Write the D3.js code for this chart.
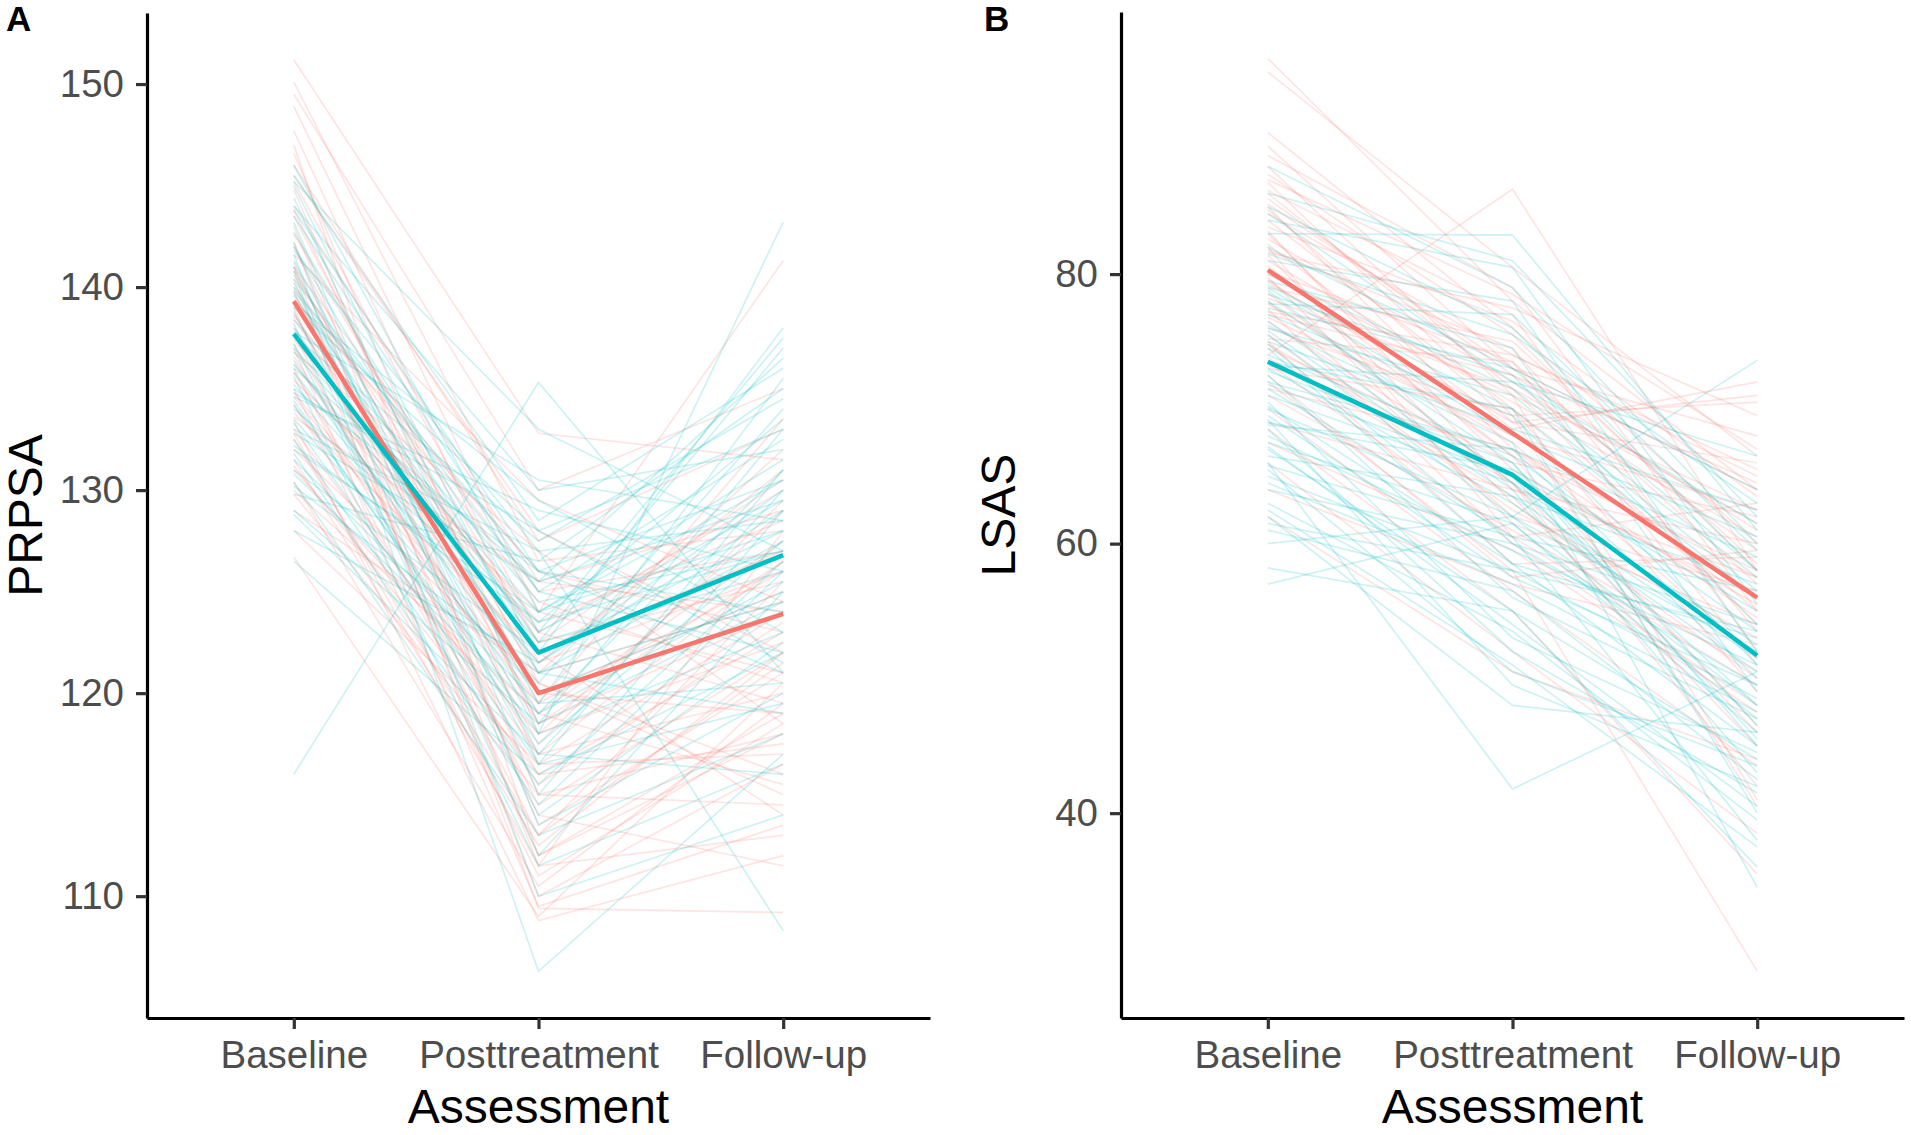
<!DOCTYPE html>
<html lang="en">
<head>
<meta charset="UTF-8">
<title>PRPSA and LSAS by assessment</title>
<script src="https://d3js.org/d3.v7.min.js"></script>
<style>
  body { margin: 0; background: #ffffff; }
  svg { display: block; font-family: "Liberation Sans", Arial, sans-serif; }
</style>
</head>
<body>
<div id="chart"></div>
<script>
// Assessment points on the x axis
var assessments = ["Baseline", "Posttreatment", "Follow-up"];

// Group colours (ggplot default hues)
var groupColors = ["#F8766D", "#00BFC4"];

// Panel A: PRPSA, one row per participant [baseline, post, follow-up]
var prpsaGroup1 = [
  [151.2,132.8,131.5],[150.1,126.5,128.0],[148.9,124.0,141.3],[147.7,121.5,126.0],
  [146.6,118.0,122.5],[146.0,127.5,133.0],[145.2,123.0,119.5],[144.8,116.5,124.0],
  [144.0,125.5,129.0],[143.5,120.5,115.0],[143.0,113.5,121.0],[142.6,122.5,130.5],
  [142.0,118.5,126.5],[141.6,129.5,124.5],[141.2,115.0,118.0],[140.8,121.0,132.0],
  [140.4,110.0,116.5],[140.0,124.5,120.5],[139.7,119.0,127.5],[139.4,126.0,123.0],
  [139.0,112.0,119.0],[138.7,117.5,129.5],[138.4,122.0,114.0],[138.0,120.0,125.0],
  [137.7,114.5,122.0],[137.4,123.5,128.5],[137.0,109.5,113.5],[136.6,118.5,124.0],
  [136.2,121.5,131.0],[135.8,116.0,117.5],[135.4,124.0,121.0],[135.0,111.0,118.5],
  [134.6,119.5,126.0],[134.2,115.5,123.5],[133.8,122.0,127.0],[133.4,108.8,112.0],
  [133.0,117.0,120.0],[132.5,113.0,125.5],[132.0,120.5,116.0],[131.5,112.5,122.0],
  [131.0,118.0,129.0],[130.4,110.5,119.5],[129.8,115.0,114.5],[129.0,121.0,124.5],
  [128.0,116.5,117.0],[126.7,109.0,120.5],[141.0,109.4,109.2],[149.5,130.0,135.0],
  [147.0,112.0,118.0],[145.5,128.0,122.0],[143.8,119.5,133.5],[142.2,111.5,113.0],
  [141.0,125.0,127.0],[139.8,114.0,111.5],[138.6,123.0,130.0],[137.2,117.0,126.5],
  [136.0,113.0,121.5],[134.8,120.0,119.0],[133.6,125.5,124.0],[132.8,111.5,128.0],
  [131.2,116.0,123.0],[130.0,119.0,115.5],[140.6,122.5,125.5],[136.8,127.0,118.5]
];
var prpsaGroup2 = [
  [116.0,135.3,121.0],[146.0,124.0,130.5],[145.5,128.5,136.0],[145.0,121.0,127.5],
  [144.4,118.5,133.0],[143.8,126.0,124.0],[143.2,115.0,129.0],[142.7,123.0,137.5],
  [142.2,113.5,120.0],[141.8,127.0,128.5],[141.3,120.0,125.0],[140.8,106.3,117.0],
  [140.4,125.0,132.5],[140.0,118.0,143.2],[139.6,122.5,126.0],[139.2,129.5,123.0],
  [138.8,116.5,131.0],[138.4,124.5,127.0],[138.0,121.0,119.0],[137.6,127.5,134.5],
  [137.2,114.0,122.5],[136.8,123.0,129.5],[136.4,119.0,125.5],[136.0,125.5,136.5],
  [135.6,111.5,116.5],[135.2,121.5,130.0],[134.8,128.0,121.5],[134.4,117.5,127.5],
  [134.0,123.5,133.5],[133.5,120.0,124.0],[133.0,127.0,108.3],[132.5,115.5,126.5],
  [132.0,124.0,131.5],[131.5,119.5,120.5],[131.0,122.0,128.0],[130.4,113.0,118.0],
  [129.8,126.5,135.0],[129.0,118.5,124.5],[128.0,121.5,129.0],[126.5,116.0,122.0],
  [144.0,130.0,132.0],[142.0,122.0,138.0],[141.0,117.0,116.0],[139.8,126.0,130.5],
  [138.2,112.0,125.0],[137.0,124.0,128.0],[135.8,120.5,134.0],[134.6,129.0,126.0],
  [133.3,116.5,119.5],[132.2,123.5,127.0],[130.8,119.0,131.0],[145.2,133.0,127.0],
  [143.5,125.0,122.0],[141.6,110.0,114.0],[139.0,128.0,133.0],[136.2,122.5,137.0],
  [134.2,118.0,123.0],[132.8,125.5,129.5],[131.8,114.5,126.0],[130.2,121.0,124.5],
  [137.8,130.5,128.5],[140.2,119.5,135.5],[135.0,126.0,121.0],[128.8,117.0,130.0]
];
var prpsaMean1 = [139.3, 120.0, 123.9];
var prpsaMean2 = [137.7, 122.0, 126.8];
var prpsaTicks = [110, 120, 130, 140, 150];

// Panel B: LSAS, one row per participant [baseline, post, follow-up]
var lsasGroup1 = [
  [96.0,78.0,64.0],[95.0,80.5,66.5],[90.5,76.0,60.0],[89.5,73.0,68.0],
  [88.8,79.0,55.0],[88.0,71.0,62.5],[87.4,75.5,58.0],[86.8,69.5,70.5],
  [86.2,77.0,52.0],[85.6,72.5,61.0],[85.0,67.0,57.5],[84.5,74.0,65.0],
  [84.0,70.0,49.0],[83.5,76.5,63.5],[83.0,65.5,55.5],[82.6,72.0,59.5],
  [82.2,68.5,72.0],[81.8,74.5,53.5],[81.4,63.0,50.0],[81.0,70.5,60.5],
  [80.6,66.5,46.5],[80.2,73.5,57.0],[79.8,61.5,54.0],[79.4,69.0,66.0],
  [79.0,75.0,58.5],[78.6,64.5,42.0],[78.2,71.5,61.5],[77.8,67.5,51.5],
  [77.4,60.0,48.0],[77.0,72.5,64.5],[76.5,65.0,56.0],[76.0,69.5,40.5],
  [75.5,62.5,53.0],[75.0,58.5,59.0],[74.0,86.3,58.0],[74.5,66.0,62.0],
  [73.8,63.5,45.0],[73.0,70.0,55.0],[72.0,58.0,28.3],[71.0,61.0,50.5],
  [70.0,56.5,43.5],[69.0,64.0,57.5],[67.5,59.5,47.5],[66.0,52.0,38.5],
  [64.0,57.0,52.5],[62.0,50.5,44.0],[87.0,78.5,67.0],[85.2,73.0,64.0],
  [83.2,64.0,60.0],[81.6,77.5,69.5],[80.0,71.0,41.0],[78.0,62.0,56.5],
  [76.8,68.0,62.5],[75.2,73.5,51.0],[73.4,60.5,63.0],[71.5,67.0,54.5],
  [68.5,55.0,35.5],[84.8,69.0,71.0],[82.0,60.5,49.5],[79.6,66.5,58.0],
  [77.2,74.0,65.5],[74.8,64.5,46.0],[72.5,57.5,59.5],[86.0,71.5,54.0]
];
var lsasGroup2 = [
  [88.0,79.0,60.0],[86.0,81.0,62.0],[85.0,76.0,58.0],[84.0,80.5,55.5],
  [83.0,82.9,61.0],[82.0,73.0,64.0],[81.0,78.0,52.0],[80.0,71.5,57.5],
  [79.5,74.5,49.0],[79.0,68.0,60.5],[78.5,72.5,54.0],[78.0,66.0,46.5],
  [77.5,73.0,58.0],[77.0,69.5,51.0],[76.5,64.0,43.0],[76.0,71.0,56.5],
  [75.5,62.0,48.0],[75.0,68.5,62.5],[74.5,58.5,45.0],[74.0,66.5,53.5],
  [73.5,70.0,40.0],[73.0,63.0,50.5],[72.5,56.0,47.0],[72.0,67.0,59.0],
  [71.5,60.5,38.0],[71.0,64.5,52.5],[70.5,53.0,44.5],[70.0,62.0,73.6],
  [69.5,57.5,49.5],[69.0,65.5,55.0],[68.5,52.0,41.5],[68.0,59.5,51.0],
  [67.5,61.5,46.0],[67.0,55.0,36.0],[66.0,41.8,50.5],[66.5,63.5,57.0],
  [65.5,50.5,43.5],[65.0,58.0,48.5],[64.0,60.0,54.0],[63.0,53.5,39.5],
  [62.0,48.0,46.0],[61.0,56.5,42.5],[60.0,62.0,52.0],[58.2,55.0,44.0],
  [57.0,61.5,47.0],[81.5,75.5,63.0],[79.2,70.0,56.0],[77.8,77.0,59.5],
  [76.2,67.5,34.5],[74.8,60.0,49.5],[73.2,72.0,61.5],[71.8,65.0,45.5],
  [70.2,58.5,53.0],[68.8,67.0,50.0],[67.2,54.0,40.5],[65.8,60.5,56.5],
  [64.5,57.0,47.5],[62.5,51.0,37.5],[75.8,63.5,51.5],[72.8,66.0,45.0],
  [69.2,49.5,42.0],[84.5,72.0,66.5],[61.5,58.0,53.5],[78.8,64.5,48.0]
];
var lsasMean1 = [80.3, 68.2, 56.0];
var lsasMean2 = [73.5, 65.1, 51.7];
var lsasTicks = [40, 60, 80];

// Canvas
var width = 1911;
var height = 1135;

var svg = d3.select("#chart").append("svg")
    .attr("width", width)
    .attr("height", height);

// Draw one panel
function drawPanel(opt) {
    var xScale = d3.scalePoint()
        .domain(assessments)
        .range([opt.left, opt.right])
        .padding(0.6);

    var yScale = d3.scaleLinear()
        .domain(opt.domain)
        .range([opt.bottom, opt.top]);

    var line = d3.line()
        .x(function(d, i){ return xScale(assessments[i]); })
        .y(function(d){ return yScale(d); });

    var g = svg.append("g");

    // individual trajectories, faint
    opt.groups.forEach(function(rows, k){
        g.append("g")
            .selectAll("path")
            .data(rows)
            .enter()
            .append("path")
                .attr("d", line)
                .attr("fill", "none")
                .attr("stroke", groupColors[k])
                .attr("stroke-width", 1.7)
                .attr("stroke-opacity", 0.2);
    });

    // group means, bold
    g.append("g")
        .selectAll("path")
        .data(opt.means)
        .enter()
        .append("path")
            .attr("d", line)
            .attr("fill", "none")
            .attr("stroke", function(d, i){ return groupColors[i]; })
            .attr("stroke-width", 4.5)
            .attr("stroke-linejoin", "round");

    // y axis
    var yAxis = g.append("g")
        .attr("transform", "translate(" + opt.left + ",0)")
        .call(d3.axisLeft(yScale).tickValues(opt.ticks).tickSize(11).tickSizeOuter(0).tickPadding(12));

    // x axis
    var xAxis = g.append("g")
        .attr("transform", "translate(0," + opt.bottom + ")")
        .call(d3.axisBottom(xScale).tickSize(11).tickSizeOuter(0).tickPadding(12));

    [yAxis, xAxis].forEach(function(ax){
        ax.select(".domain").attr("stroke", "#000").attr("stroke-width", 3.2);
        ax.selectAll(".tick line").attr("stroke", "#333333").attr("stroke-width", 3.2);
        ax.selectAll(".tick text")
            .attr("fill", "#4D4D4D")
            .attr("font-size", "38.5px")
            .attr("font-family", "'Liberation Sans', Arial, sans-serif");
    });

    // axis titles
    g.append("text")
        .attr("x", (opt.left + opt.right) / 2)
        .attr("y", 1123)
        .attr("text-anchor", "middle")
        .attr("font-size", "48px")
        .attr("fill", "#000")
        .text("Assessment");

    g.append("text")
        .attr("transform", "translate(" + opt.titleX + "," + ((opt.top + opt.bottom) / 2) + ") rotate(-90)")
        .attr("text-anchor", "middle")
        .attr("font-size", "48px")
        .attr("fill", "#000")
        .text(opt.yTitle);

    // panel tag
    g.append("text")
        .attr("x", opt.tagX)
        .attr("y", 31)
        .attr("font-size", "35px")
        .attr("font-weight", "bold")
        .attr("fill", "#000")
        .text(opt.tag);
}

drawPanel({
    left: 147, right: 930, top: 13, bottom: 1018,
    domain: [104.0, 153.5],
    ticks: prpsaTicks,
    groups: [prpsaGroup1, prpsaGroup2],
    means: [prpsaMean1, prpsaMean2],
    yTitle: "PRPSA", titleX: 42,
    tag: "A", tagX: 6
});

drawPanel({
    left: 1121, right: 1904, top: 12, bottom: 1018,
    domain: [24.8, 99.45],
    ticks: lsasTicks,
    groups: [lsasGroup1, lsasGroup2],
    means: [lsasMean1, lsasMean2],
    yTitle: "LSAS", titleX: 1015,
    tag: "B", tagX: 984
});
</script>
</body>
</html>
